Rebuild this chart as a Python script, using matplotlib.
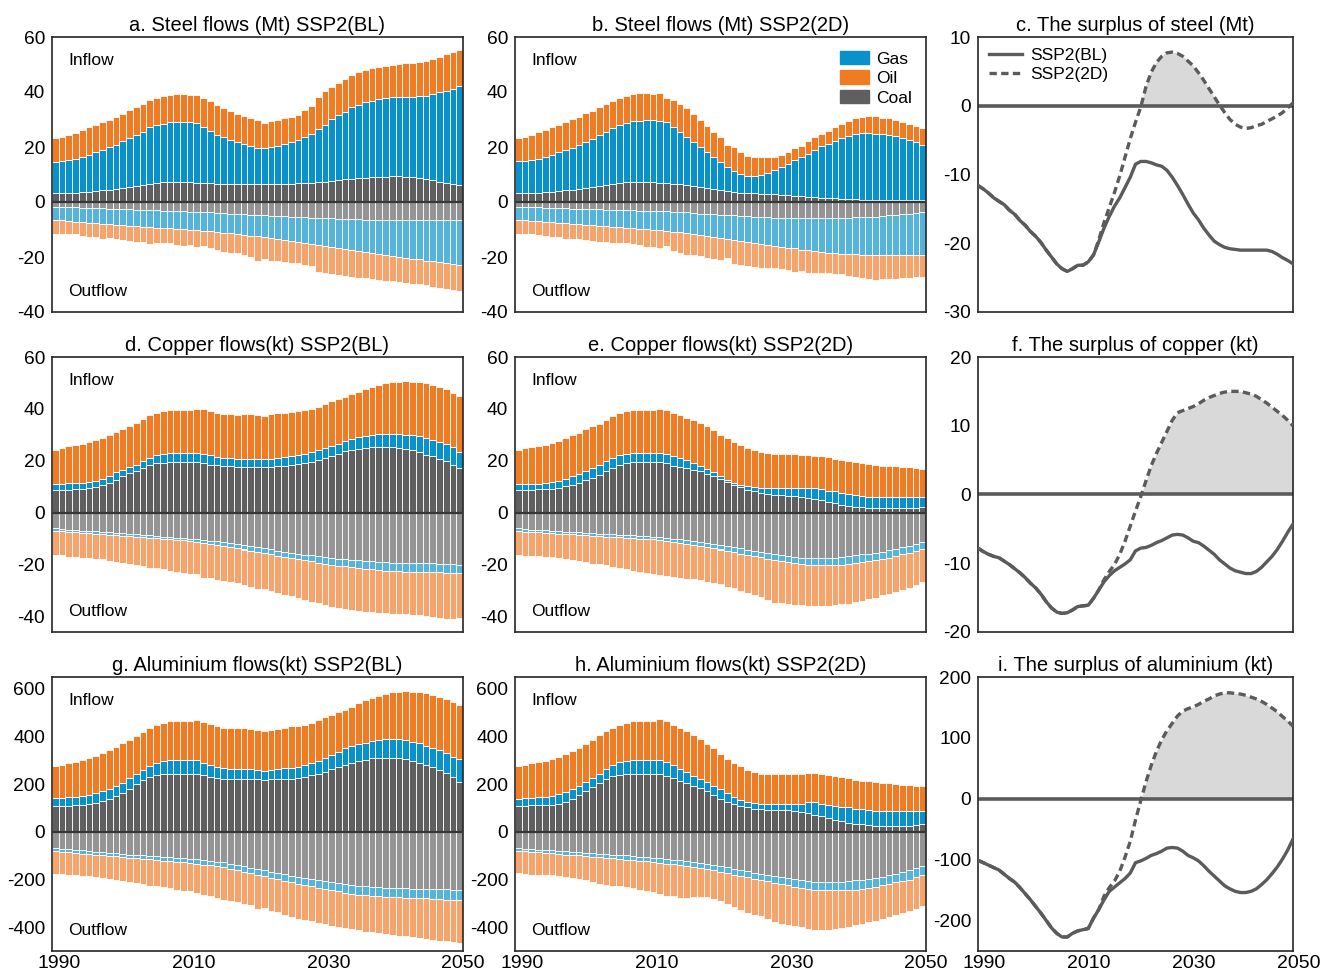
import matplotlib.pyplot as plt
import numpy as np
from matplotlib.patches import Patch
from matplotlib.lines import Line2D
from matplotlib.transforms import ScaledTranslation

plt.rcParams["font.family"] = ["Liberation Sans", "DejaVu Sans"]
plt.rcParams["axes.unicode_minus"] = False

YEARS = list(range(1990, 2051))

# ---- steel, SSP2(BL): cumulative tops of inflow stacks, cumulative depths of outflow, surplus ----
steel_bl_coal = [3.1, 3.1, 3.2, 3.3, 3.5, 3.7, 3.9, 4.2, 4.5, 4.7,
                 5.0, 5.4, 5.8, 6.2, 6.6, 6.9, 7.1, 7.2, 7.2, 7.2,
                 7.1, 7.0, 6.9, 6.8, 6.7, 6.7, 6.6, 6.6, 6.5, 6.5,
                 6.5, 6.5, 6.5, 6.6, 6.6, 6.7, 6.8, 6.9, 7.0, 7.2,
                 7.4, 7.7, 7.9, 8.2, 8.4, 8.6, 8.8, 9.0, 9.1, 9.2,
                 9.3, 9.3, 9.2, 9.0, 8.7, 8.3, 7.9, 7.4, 6.9, 6.4, 6.0]
steel_bl_gas = [14.7, 14.9, 15.3, 15.8, 16.4, 17.1, 18.1, 18.9, 19.9, 20.8,
                22.0, 23.2, 24.2, 25.6, 27.1, 27.9, 28.5, 29.0, 29.2, 29.2,
                29.1, 28.9, 27.4, 25.9, 24.4, 23.5, 22.5, 21.7, 21.1, 20.4,
                19.6, 19.5, 19.9, 20.5, 21.1, 21.7, 22.5, 23.5, 24.9, 26.5,
                28.0, 30.1, 31.6, 32.8, 34.5, 35.4, 36.3, 36.9, 37.4, 37.7,
                38.0, 38.1, 38.2, 38.3, 38.4, 38.7, 39.2, 39.9, 40.5, 41.2, 42.0]
steel_bl_oil = [23.1, 23.7, 24.4, 25.1, 26.1, 27.1, 28.0, 29.1, 29.9, 30.9,
                32.1, 33.3, 34.5, 35.7, 37.1, 37.8, 38.6, 39.0, 39.3, 39.3,
                39.0, 39.0, 37.8, 36.6, 35.4, 34.3, 33.1, 32.1, 31.3, 30.4,
                29.8, 28.9, 29.5, 29.8, 30.4, 31.0, 31.6, 33.3, 34.9, 38.2,
                40.2, 41.7, 43.2, 44.8, 46.0, 47.2, 48.0, 48.6, 49.1, 49.6,
                49.8, 50.1, 50.4, 50.7, 50.9, 51.3, 52.0, 52.8, 53.7, 54.4, 55.2]
steel_bl_out_coal = [1.9, 1.9, 2.0, 2.0, 2.1, 2.2, 2.2, 2.3, 2.4, 2.5,
                     2.6, 2.7, 2.8, 2.9, 3.0, 3.0, 3.1, 3.2, 3.3, 3.4,
                     3.5, 3.6, 3.7, 3.8, 3.9, 4.0, 4.2, 4.3, 4.4, 4.6,
                     4.7, 4.8, 5.0, 5.1, 5.2, 5.3, 5.5, 5.6, 5.7, 5.8,
                     5.9, 6.0, 6.1, 6.2, 6.3, 6.3, 6.4, 6.4, 6.5, 6.5,
                     6.5, 6.6, 6.6, 6.6, 6.6, 6.6, 6.7, 6.7, 6.7, 6.7, 6.7]
steel_bl_out_gas = [6.5, 6.7, 6.9, 7.1, 7.3, 7.5, 7.7, 7.9, 8.1, 8.3,
                    8.5, 8.7, 8.8, 9.0, 9.2, 9.3, 9.5, 9.6, 9.8, 9.9,
                    10.1, 10.3, 10.5, 10.7, 10.9, 11.1, 11.4, 11.7, 12.0, 12.2,
                    12.5, 12.8, 13.2, 13.5, 13.9, 14.2, 14.6, 14.9, 15.3, 15.6,
                    16.0, 16.4, 16.7, 17.1, 17.5, 17.8, 18.2, 18.5, 18.9, 19.2,
                    19.6, 19.9, 20.3, 20.6, 20.9, 21.3, 21.6, 21.9, 22.2, 22.6, 22.9]
steel_bl_surplus = [-11.6, -12.1, -12.7, -13.4, -13.9, -14.4, -15.2, -15.8, -16.7, -17.4,
                    -18.3, -19.0, -19.9, -21.0, -22.0, -23.0, -23.7, -24.1, -23.7, -23.2,
                    -23.2, -22.7, -21.7, -19.8, -17.8, -16.1, -14.6, -13.4, -11.9, -10.4,
                    -8.5, -8.1, -8.1, -8.3, -8.6, -8.8, -9.4, -10.4, -11.6, -12.9,
                    -14.3, -15.6, -16.6, -17.8, -18.8, -19.7, -20.2, -20.6, -20.8, -20.9,
                    -21.0, -21.0, -21.0, -21.0, -21.0, -21.0, -21.2, -21.6, -22.1, -22.5, -23.0]

# ---- steel, SSP2(2D) ----
steel_2d_coal = [3.1, 3.1, 3.2, 3.3, 3.5, 3.7, 3.9, 4.2, 4.5, 4.7,
                 5.0, 5.4, 5.8, 6.2, 6.6, 6.9, 7.1, 7.2, 7.2, 7.2,
                 7.1, 7.0, 6.9, 6.7, 6.5, 6.3, 5.9, 5.5, 5.1, 4.7,
                 4.3, 3.9, 3.6, 3.4, 3.2, 3.1, 3.0, 2.9, 2.8, 2.6,
                 2.5, 2.3, 2.1, 1.9, 1.7, 1.6, 1.4, 1.3, 1.1, 1.0,
                 1.0, 0.9, 0.9, 0.9, 0.8, 0.8, 0.8, 0.7, 0.7, 0.7, 0.7]
steel_2d_gas = [14.9, 14.9, 15.2, 15.6, 16.3, 17.1, 18.0, 18.9, 19.8, 20.8,
                21.7, 22.9, 24.2, 25.6, 27.0, 28.0, 28.8, 29.3, 29.6, 29.7,
                29.7, 29.5, 29.0, 27.3, 25.5, 23.7, 21.8, 19.9, 18.1, 16.3,
                14.5, 12.7, 11.3, 10.1, 9.5, 9.3, 9.7, 10.5, 11.5, 12.7,
                13.9, 15.1, 16.3, 17.5, 19.0, 20.2, 21.1, 22.3, 23.2, 24.1,
                24.9, 25.0, 25.0, 24.9, 24.7, 24.3, 24.0, 23.4, 22.6, 21.7, 20.8]
steel_2d_oil = [23.1, 23.7, 24.4, 25.3, 26.1, 27.1, 28.0, 29.1, 30.1, 30.9,
                32.2, 33.1, 34.5, 35.7, 36.9, 37.8, 38.7, 39.3, 39.5, 39.5,
                39.4, 39.5, 37.8, 37.2, 35.7, 34.0, 31.9, 29.8, 27.7, 25.6,
                23.5, 20.7, 19.9, 18.1, 16.9, 16.3, 16.2, 16.2, 16.5, 17.2,
                18.1, 19.5, 20.2, 22.0, 23.5, 24.7, 25.9, 27.1, 28.3, 29.5,
                30.4, 30.9, 31.3, 31.1, 30.7, 30.4, 29.9, 29.2, 28.5, 27.7, 26.8]
steel_2d_out_coal = [1.9, 1.9, 2.0, 2.0, 2.1, 2.2, 2.2, 2.3, 2.4, 2.5,
                     2.6, 2.7, 2.7, 2.8, 2.9, 2.9, 3.0, 3.0, 3.1, 3.1,
                     3.2, 3.3, 3.4, 3.5, 3.7, 3.8, 4.0, 4.2, 4.3, 4.5,
                     4.7, 4.8, 4.9, 5.1, 5.2, 5.3, 5.4, 5.6, 5.7, 5.8,
                     5.9, 5.9, 5.9, 5.9, 5.9, 5.9, 5.9, 5.8, 5.8, 5.7,
                     5.6, 5.5, 5.4, 5.3, 5.1, 4.9, 4.7, 4.5, 4.3, 4.1, 3.8]
steel_2d_out_gas = [6.5, 6.7, 6.8, 7.0, 7.2, 7.4, 7.6, 7.8, 7.9, 8.1,
                    8.3, 8.5, 8.7, 8.8, 9.0, 9.2, 9.4, 9.6, 9.7, 9.9,
                    10.1, 10.3, 10.5, 10.8, 11.0, 11.3, 11.6, 12.0, 12.4, 12.7,
                    13.1, 13.5, 13.8, 14.2, 14.5, 14.9, 15.2, 15.6, 15.9, 16.3,
                    16.6, 16.9, 17.3, 17.6, 17.9, 18.2, 18.4, 18.6, 18.8, 18.9,
                    19.0, 19.1, 19.2, 19.2, 19.3, 19.3, 19.3, 19.3, 19.3, 19.3, 19.3]
steel_2d_surplus = [-11.6, -12.1, -12.7, -13.4, -13.9, -14.4, -15.2, -15.8, -16.7, -17.4,
                    -18.3, -19.0, -19.9, -21.0, -22.0, -23.0, -23.7, -24.1, -23.7, -23.2,
                    -23.2, -22.7, -21.7, -19.5, -17.0, -14.8, -12.6, -10.2, -7.5, -4.8,
                    -2.4, -0.2, 2.8, 4.9, 6.3, 7.2, 7.7, 7.8, 7.6, 7.2,
                    6.5, 5.8, 4.8, 3.7, 2.5, 1.3, 0.1, -1.0, -2.0, -2.7,
                    -3.1, -3.3, -3.2, -2.9, -2.7, -2.3, -1.9, -1.5, -1.0, -0.3, 0.4]

# ---- copper, SSP2(BL) ----
copper_bl_coal = [8.8, 8.8, 8.9, 9.1, 9.2, 9.4, 9.9, 10.7, 11.6, 12.7,
                  14.0, 15.1, 16.2, 17.4, 18.5, 19.1, 19.3, 19.4, 19.4, 19.4,
                  19.4, 19.4, 19.1, 18.5, 18.2, 17.9, 17.8, 17.6, 17.6, 17.5,
                  17.5, 17.5, 17.6, 17.9, 18.0, 18.2, 18.6, 19.1, 19.7, 20.4,
                  21.1, 22.0, 22.8, 23.6, 24.3, 24.7, 25.0, 25.2, 25.4, 25.4,
                  25.2, 25.0, 24.6, 24.0, 23.3, 22.4, 21.7, 20.8, 19.8, 18.5, 17.2]
copper_bl_gas = [11.1, 11.2, 11.3, 11.5, 11.6, 11.8, 12.3, 13.1, 14.3, 15.5,
                 16.6, 17.6, 18.5, 19.8, 21.2, 22.4, 22.8, 23.0, 23.0, 23.0,
                 23.0, 23.0, 22.7, 22.1, 21.6, 21.1, 20.9, 20.7, 20.7, 20.7,
                 20.7, 20.7, 20.8, 21.0, 21.3, 21.7, 22.2, 22.8, 23.5, 24.3,
                 25.0, 25.8, 26.6, 27.6, 28.5, 29.2, 29.7, 30.1, 30.3, 30.4,
                 30.5, 30.4, 30.1, 29.8, 29.5, 28.8, 28.1, 27.3, 26.6, 25.2, 23.4]
copper_bl_oil = [24.3, 24.8, 25.6, 26.0, 26.5, 27.2, 27.9, 28.8, 30.0, 31.2,
                 32.3, 33.4, 34.7, 36.2, 37.8, 38.6, 39.2, 39.6, 39.6, 39.6,
                 39.7, 39.8, 40.1, 39.2, 38.6, 38.2, 37.9, 37.8, 37.9, 38.0,
                 37.6, 37.3, 37.9, 38.3, 38.6, 38.8, 39.2, 39.6, 40.1, 40.9,
                 41.8, 43.1, 43.7, 44.6, 45.7, 46.7, 47.6, 48.3, 49.2, 49.8,
                 50.2, 50.5, 50.6, 50.5, 50.2, 49.8, 49.3, 48.5, 47.6, 46.3, 45.0]
copper_bl_out_coal = [6.1, 6.3, 6.5, 6.7, 6.9, 7.0, 7.2, 7.4, 7.6, 7.8,
                      8.0, 8.2, 8.4, 8.6, 8.8, 9.0, 9.2, 9.4, 9.6, 9.8,
                      10.0, 10.2, 10.5, 10.8, 11.0, 11.3, 11.7, 12.1, 12.5, 12.8,
                      13.2, 13.7, 14.1, 14.6, 15.0, 15.5, 15.8, 16.2, 16.5, 16.8,
                      17.1, 17.4, 17.7, 17.9, 18.2, 18.4, 18.6, 18.8, 19.0, 19.1,
                      19.3, 19.3, 19.3, 19.4, 19.4, 19.4, 19.5, 19.6, 19.8, 19.9, 20.1]
copper_bl_out_gas = [7.0, 7.2, 7.4, 7.6, 7.8, 8.0, 8.1, 8.3, 8.5, 8.7,
                     8.9, 9.1, 9.3, 9.5, 9.7, 9.9, 10.1, 10.3, 10.5, 10.7,
                     10.9, 11.2, 11.6, 12.0, 12.4, 12.8, 13.3, 13.8, 14.2, 14.7,
                     15.1, 15.6, 16.1, 16.6, 17.0, 17.5, 17.9, 18.4, 18.8, 19.3,
                     19.7, 20.0, 20.4, 20.7, 21.0, 21.3, 21.6, 21.8, 22.1, 22.3,
                     22.5, 22.6, 22.7, 22.7, 22.8, 22.8, 22.9, 23.0, 23.1, 23.2, 23.3]
copper_bl_surplus = [-7.8, -8.3, -8.7, -9.0, -9.2, -9.7, -10.2, -10.8, -11.4, -12.1,
                     -12.9, -13.6, -14.5, -15.6, -16.5, -17.1, -17.3, -17.2, -16.8, -16.3,
                     -16.2, -16.1, -15.1, -13.9, -12.7, -11.8, -11.1, -10.6, -10.1, -9.5,
                     -8.2, -7.8, -7.7, -7.4, -7.0, -6.7, -6.3, -5.9, -5.8, -5.9,
                     -6.3, -6.8, -7.0, -7.5, -8.1, -8.7, -9.5, -10.1, -10.7, -11.1,
                     -11.3, -11.5, -11.5, -11.2, -10.6, -9.8, -9.0, -8.0, -6.8, -5.5, -4.3]

# ---- copper, SSP2(2D) ----
copper_2d_coal = [8.8, 8.8, 8.9, 9.0, 9.1, 9.2, 9.6, 10.1, 10.7, 11.4,
                  12.4, 13.5, 14.6, 15.9, 17.2, 18.5, 19.1, 19.4, 19.4, 19.4,
                  19.4, 19.4, 19.1, 18.1, 17.7, 17.2, 16.6, 15.9, 15.0, 14.0,
                  12.9, 12.0, 10.7, 9.8, 8.8, 8.2, 7.5, 7.1, 6.9, 6.8,
                  6.6, 6.4, 6.2, 5.8, 5.2, 4.7, 4.0, 3.6, 3.1, 2.6,
                  2.3, 2.1, 1.9, 1.7, 1.7, 1.7, 1.7, 1.7, 1.8, 1.9, 2.3]
copper_2d_gas = [11.0, 11.0, 11.1, 11.1, 11.4, 11.8, 12.3, 13.1, 14.0, 15.0,
                 15.9, 17.2, 18.5, 19.8, 21.1, 22.4, 22.8, 23.0, 23.0, 23.0,
                 23.0, 23.0, 22.6, 22.0, 21.1, 20.2, 19.2, 18.1, 16.8, 15.5,
                 14.0, 12.7, 11.4, 10.7, 10.1, 9.7, 9.4, 9.4, 9.4, 9.4,
                 9.4, 9.4, 9.4, 9.4, 9.4, 9.0, 8.5, 8.2, 7.7, 7.2,
                 6.9, 6.5, 6.2, 6.0, 6.0, 6.0, 6.0, 6.0, 6.0, 6.0, 6.0]
copper_2d_oil = [24.3, 25.0, 25.4, 25.7, 26.1, 26.9, 27.8, 28.8, 29.8, 30.8,
                 32.1, 33.4, 34.3, 35.7, 37.3, 38.6, 39.2, 39.5, 39.6, 39.6,
                 39.7, 40.1, 39.6, 38.6, 37.5, 36.6, 35.7, 34.7, 33.4, 31.8,
                 29.8, 28.8, 27.2, 26.0, 25.0, 24.1, 23.4, 23.0, 22.8, 22.8,
                 22.6, 22.6, 22.4, 22.1, 22.0, 21.7, 21.3, 20.8, 20.4, 20.1,
                 19.5, 19.1, 18.8, 18.5, 18.1, 17.9, 17.9, 17.6, 17.5, 17.2, 16.9]
copper_2d_out_coal = [6.1, 6.3, 6.5, 6.6, 6.8, 7.0, 7.1, 7.3, 7.5, 7.6,
                      7.8, 7.9, 8.1, 8.2, 8.4, 8.5, 8.7, 8.8, 9.0, 9.1,
                      9.3, 9.5, 9.8, 10.0, 10.3, 10.6, 11.0, 11.3, 11.7, 12.1,
                      12.5, 12.9, 13.4, 13.8, 14.3, 14.7, 15.1, 15.6, 16.0, 16.4,
                      16.8, 17.1, 17.3, 17.5, 17.5, 17.5, 17.4, 17.3, 17.1, 16.8,
                      16.4, 16.1, 15.8, 15.5, 15.0, 14.5, 14.0, 13.4, 12.8, 12.2, 11.5]
copper_2d_out_gas = [7.1, 7.3, 7.4, 7.6, 7.7, 7.9, 8.1, 8.2, 8.4, 8.5,
                     8.7, 8.9, 9.0, 9.2, 9.3, 9.5, 9.7, 9.8, 10.0, 10.1,
                     10.3, 10.6, 10.9, 11.2, 11.6, 11.9, 12.4, 12.8, 13.3, 13.7,
                     14.2, 14.7, 15.2, 15.8, 16.3, 16.8, 17.2, 17.7, 18.1, 18.6,
                     19.0, 19.5, 19.9, 20.3, 20.3, 20.3, 20.3, 20.2, 20.1, 19.8,
                     19.4, 19.1, 18.8, 18.4, 17.9, 17.3, 16.7, 16.1, 15.5, 14.8, 14.1]
copper_2d_surplus = [-7.8, -8.3, -8.7, -9.0, -9.2, -9.7, -10.2, -10.8, -11.4, -12.1,
                     -12.9, -13.6, -14.5, -15.6, -16.5, -17.1, -17.3, -17.2, -16.8, -16.3,
                     -16.2, -16.1, -15.1, -13.9, -12.4, -11.2, -10.2, -8.7, -6.8, -4.6,
                     -2.4, -0.3, 2.0, 4.2, 6.0, 7.6, 9.2, 10.8, 11.9, 12.2,
                     12.5, 12.8, 13.2, 13.7, 14.1, 14.4, 14.7, 14.9, 15.0, 15.0,
                     15.0, 14.8, 14.6, 14.3, 13.8, 13.3, 12.7, 12.1, 11.5, 10.8, 10.0]

# ---- aluminium, SSP2(BL) ----
al_bl_coal = [108, 109, 110, 111, 113, 115, 122, 129, 139, 150,
              164, 181, 200, 216, 230, 239, 243, 244, 244, 244,
              244, 244, 239, 232, 226, 223, 223, 223, 223, 223,
              221, 219, 221, 221, 221, 223, 226, 230, 237, 244,
              252, 263, 273, 281, 291, 298, 303, 308, 311, 312,
              312, 309, 305, 298, 291, 281, 273, 260, 249, 232, 209]
al_bl_gas = [143, 144, 146, 148, 150, 155, 162, 171, 181, 192,
             207, 225, 242, 260, 277, 291, 298, 302, 301, 301,
             301, 301, 291, 281, 273, 266, 263, 263, 263, 263,
             259, 257, 260, 263, 266, 268, 273, 280, 288, 298,
             308, 322, 336, 350, 361, 368, 375, 381, 385, 388,
             389, 388, 385, 379, 371, 361, 354, 344, 333, 316, 305]
al_bl_oil = [277, 281, 288, 294, 301, 308, 319, 330, 343, 357,
             372, 386, 403, 420, 438, 450, 459, 464, 466, 465,
             465, 471, 462, 452, 445, 438, 434, 434, 434, 431,
             429, 422, 429, 431, 438, 443, 445, 448, 457, 469,
             481, 490, 502, 513, 525, 540, 554, 562, 572, 579,
             586, 589, 590, 589, 586, 582, 576, 568, 558, 547, 533]
al_bl_out_coal = [67, 70, 72, 75, 77, 80, 83, 85, 88, 90,
                  93, 95, 97, 99, 101, 103, 104, 106, 108, 110,
                  112, 115, 118, 121, 125, 128, 134, 139, 145, 150,
                  156, 162, 167, 173, 178, 184, 189, 194, 198, 203,
                  208, 212, 216, 219, 223, 226, 228, 230, 232, 234,
                  236, 237, 237, 238, 238, 239, 240, 241, 241, 242, 243]
al_bl_out_gas = [81, 83, 86, 88, 91, 93, 96, 98, 100, 103,
                 105, 108, 110, 113, 115, 118, 121, 123, 126, 128,
                 131, 134, 138, 141, 145, 148, 154, 161, 167, 174,
                 180, 186, 193, 199, 206, 212, 218, 223, 229, 234,
                 240, 245, 250, 255, 259, 264, 266, 268, 270, 272,
                 274, 275, 276, 276, 277, 278, 280, 282, 284, 286, 288]
al_bl_surplus = [-101, -105, -109, -113, -117, -124, -131, -137, -146, -156,
                 -166, -177, -188, -200, -212, -221, -227, -227, -221, -217,
                 -215, -213, -196, -182, -166, -152, -145, -138, -131, -122,
                 -105, -102, -98, -93, -90, -86, -81, -80, -81, -86,
                 -93, -97, -102, -110, -119, -127, -135, -143, -148, -152,
                 -154, -154, -152, -148, -141, -133, -123, -112, -99, -84, -66]

# ---- aluminium, SSP2(2D) ----
al_2d_coal = [110, 110, 111, 112, 113, 114, 119, 126, 138, 155,
              170, 187, 204, 222, 233, 240, 243, 243, 243, 243,
              243, 243, 236, 228, 215, 205, 194, 183, 170, 156,
              140, 126, 117, 110, 103, 98, 96, 93, 90, 90,
              90, 87, 84, 79, 72, 65, 58, 51, 44, 39,
              35, 31, 28, 25, 25, 25, 25, 25, 26, 28, 31]
al_2d_gas = [140, 141, 142, 145, 147, 149, 157, 166, 178, 191,
             208, 226, 243, 264, 281, 295, 299, 302, 302, 302,
             302, 302, 292, 281, 264, 250, 236, 222, 208, 194,
             180, 162, 145, 133, 126, 121, 117, 115, 115, 115,
             115, 115, 119, 124, 124, 119, 114, 110, 105, 103,
             98, 96, 93, 89, 86, 86, 86, 86, 86, 86, 86]
al_2d_oil = [275, 282, 288, 294, 298, 306, 316, 327, 341, 354,
             370, 386, 405, 422, 438, 450, 458, 464, 466, 466,
             466, 472, 464, 450, 436, 422, 407, 391, 370, 351,
             327, 306, 289, 275, 261, 250, 243, 243, 243, 243,
             243, 243, 243, 246, 246, 243, 239, 233, 229, 225,
             219, 215, 212, 208, 204, 204, 201, 198, 197, 194, 191]
al_2d_out_coal = [69, 71, 73, 74, 76, 78, 80, 82, 84, 85,
                  87, 89, 91, 93, 95, 97, 99, 102, 104, 106,
                  108, 111, 113, 116, 119, 122, 126, 130, 134, 139,
                  143, 149, 154, 160, 165, 171, 176, 181, 185, 190,
                  195, 199, 203, 207, 209, 211, 211, 211, 211, 208,
                  204, 201, 198, 195, 189, 183, 175, 168, 160, 152, 143]
al_2d_out_gas = [80, 82, 84, 86, 88, 90, 93, 95, 97, 99,
                 101, 104, 106, 109, 111, 114, 116, 119, 121, 124,
                 126, 129, 133, 136, 140, 143, 148, 153, 157, 162,
                 167, 173, 179, 185, 191, 197, 203, 208, 214, 219,
                 225, 230, 234, 239, 243, 246, 246, 246, 246, 244,
                 242, 238, 234, 230, 224, 218, 212, 206, 200, 191, 181]
al_2d_surplus = [-101, -105, -109, -113, -117, -124, -131, -137, -146, -156,
                 -166, -177, -188, -200, -212, -221, -227, -227, -221, -217,
                 -215, -213, -196, -182, -160, -146, -135, -119, -96, -70,
                 -35, -3, 28, 55, 78, 97, 112, 124, 136, 144,
                 148, 151, 155, 160, 164, 169, 172, 174, 174, 173,
                 172, 170, 167, 164, 160, 155, 149, 143, 135, 128, 119]

# colours
IN_COAL, IN_GAS, IN_OIL = "#5f5f5f", "#0a90cb", "#f07b22"
OUT_COAL, OUT_GAS, OUT_OIL = "#949494", "#56b4dc", "#f6a46b"
LINE_C = "#5b5b5b"
FILL_C = "#d9d9d9"

W, H = 1320, 971
COLS = [(52, 463), (515, 926), (978, 1293)]
ROWS = [(37, 312), (357, 632), (677, 951)]


def rect(c, r):
    l, rr = COLS[c]
    t, b = ROWS[r]
    return [l / W, 1 - b / H, (rr - l) / W, (b - t) / H]


def style_axes(ax, yticks, bottom_row, xshift):
    for sp in ax.spines.values():
        sp.set_color("#262626")
        sp.set_linewidth(1.2)
    ax.set_yticks(yticks)
    ax.tick_params(axis="y", length=0, pad=5, labelsize=13.8)
    ax.set_xticks([1990, 2010, 2030, 2050])
    ax.tick_params(axis="x", length=0, pad=3, labelsize=14,
                   labelbottom=bottom_row)
    if bottom_row:
        off = ScaledTranslation(xshift / 100, 0, ax.figure.dpi_scale_trans)
        for lab in ax.get_xticklabels():
            lab.set_transform(lab.get_transform() + off)


def bar_panel(ax, coal, gas, oil, out_coal, out_gas, surplus, title, ylim, yticks, bottom_row):
    x = np.array(YEARS)
    coal, gas, oil = np.array(coal), np.array(gas), np.array(oil)
    out_coal, out_gas = np.array(out_coal), np.array(out_gas)
    out_total = oil + np.array(surplus)  # outflow = inflow + surplus
    kw = dict(width=1.0, edgecolor="white", linewidth=0.6, zorder=2)
    ax.bar(x, coal, color=IN_COAL, **kw)
    ax.bar(x, gas - coal, bottom=coal, color=IN_GAS, **kw)
    ax.bar(x, oil - gas, bottom=gas, color=IN_OIL, **kw)
    ax.bar(x, -out_coal, color=OUT_COAL, **kw)
    ax.bar(x, -(out_gas - out_coal), bottom=-out_coal, color=OUT_GAS, **kw)
    ax.bar(x, -(out_total - out_gas), bottom=-out_gas, color=OUT_OIL, **kw)
    ax.axhline(0, color="#363636", lw=1.6, zorder=3)
    ax.set_xlim(1989.5, 2050.5)
    ax.set_ylim(*ylim)
    ax.set_title(title, fontsize=14.5, pad=4)
    ax.text(0.039, 0.913, "Inflow", transform=ax.transAxes, fontsize=12.5, va="center")
    ax.text(0.039, 0.073, "Outflow", transform=ax.transAxes, fontsize=12.5, va="center")
    style_axes(ax, yticks, bottom_row, 3.5)


def surplus_panel(ax, s_bl, s_2d, title, ylim, yticks, bottom_row, legend=False):
    x = np.array(YEARS)
    s_bl, s_2d = np.array(s_bl), np.array(s_2d)
    ax.fill_between(x, 0, s_2d, where=s_2d > 0, interpolate=True,
                    color=FILL_C, lw=0, zorder=1)
    ax.axhline(0, color=LINE_C, lw=2.6, zorder=2)
    ax.plot(x, s_bl, color=LINE_C, lw=2.4, zorder=3)
    ax.plot(x, s_2d, color=LINE_C, lw=2.4, ls=(0, (2.2, 1.3)), zorder=4)
    ax.set_xlim(1990, 2050)
    ax.set_ylim(*ylim)
    ax.set_title(title, fontsize=14.5, pad=4)
    style_axes(ax, yticks, bottom_row, 6)
    if legend:
        handles = [Line2D([], [], color=LINE_C, lw=2.4),
                   Line2D([], [], color=LINE_C, lw=2.4, ls=(0, (2.2, 1.3)))]
        ax.legend(handles, ["SSP2(BL)", "SSP2(2D)"], loc="upper left",
                  bbox_to_anchor=(0.0, 1.0), frameon=False, fontsize=12.5,
                  handlelength=1.9, handletextpad=0.45, labelspacing=0.2,
                  borderaxespad=0.25)


fig = plt.figure(figsize=(W / 100, H / 100), dpi=100)

flow_y = [(-40, 60), (-46, 60), (-500, 650)]
flow_ticks = [[-40, -20, 0, 20, 40, 60], [-40, -20, 0, 20, 40, 60],
              [-400, -200, 0, 200, 400, 600]]

ax = fig.add_axes(rect(0, 0))
bar_panel(ax, steel_bl_coal, steel_bl_gas, steel_bl_oil, steel_bl_out_coal, steel_bl_out_gas,
          steel_bl_surplus, "a. Steel flows (Mt) SSP2(BL)", flow_y[0], flow_ticks[0], False)
ax = fig.add_axes(rect(1, 0))
bar_panel(ax, steel_2d_coal, steel_2d_gas, steel_2d_oil, steel_2d_out_coal, steel_2d_out_gas,
          steel_2d_surplus, "b. Steel flows (Mt) SSP2(2D)", flow_y[0], flow_ticks[0], False)
leg_handles = [Patch(color=IN_GAS), Patch(color=IN_OIL), Patch(color=IN_COAL)]
ax.legend(leg_handles, ["Gas", "Oil", "Coal"], loc="upper right", bbox_to_anchor=(1.0, 1.0),
          frameon=False, fontsize=12.5, handlelength=1.7, handleheight=0.8,
          handletextpad=0.4, labelspacing=0.22, borderaxespad=0.4)
ax = fig.add_axes(rect(2, 0))
surplus_panel(ax, steel_bl_surplus, steel_2d_surplus, "c. The surplus of steel (Mt)",
              (-30, 10), [-30, -20, -10, 0, 10], False, legend=True)

ax = fig.add_axes(rect(0, 1))
bar_panel(ax, copper_bl_coal, copper_bl_gas, copper_bl_oil, copper_bl_out_coal, copper_bl_out_gas,
          copper_bl_surplus, "d. Copper flows(kt) SSP2(BL)", flow_y[1], flow_ticks[1], False)
ax = fig.add_axes(rect(1, 1))
bar_panel(ax, copper_2d_coal, copper_2d_gas, copper_2d_oil, copper_2d_out_coal, copper_2d_out_gas,
          copper_2d_surplus, "e. Copper flows(kt) SSP2(2D)", flow_y[1], flow_ticks[1], False)
ax = fig.add_axes(rect(2, 1))
surplus_panel(ax, copper_bl_surplus, copper_2d_surplus, "f. The surplus of copper (kt)",
              (-20, 20), [-20, -10, 0, 10, 20], False)

ax = fig.add_axes(rect(0, 2))
bar_panel(ax, al_bl_coal, al_bl_gas, al_bl_oil, al_bl_out_coal, al_bl_out_gas,
          al_bl_surplus, "g. Aluminium flows(kt) SSP2(BL)", flow_y[2], flow_ticks[2], True)
ax = fig.add_axes(rect(1, 2))
bar_panel(ax, al_2d_coal, al_2d_gas, al_2d_oil, al_2d_out_coal, al_2d_out_gas,
          al_2d_surplus, "h. Aluminium flows(kt) SSP2(2D)", flow_y[2], flow_ticks[2], True)
ax = fig.add_axes(rect(2, 2))
surplus_panel(ax, al_bl_surplus, al_2d_surplus, "i. The surplus of aluminium (kt)",
              (-250, 200), [-200, -100, 0, 100, 200], True)

fig.savefig("out.png", dpi=100)
